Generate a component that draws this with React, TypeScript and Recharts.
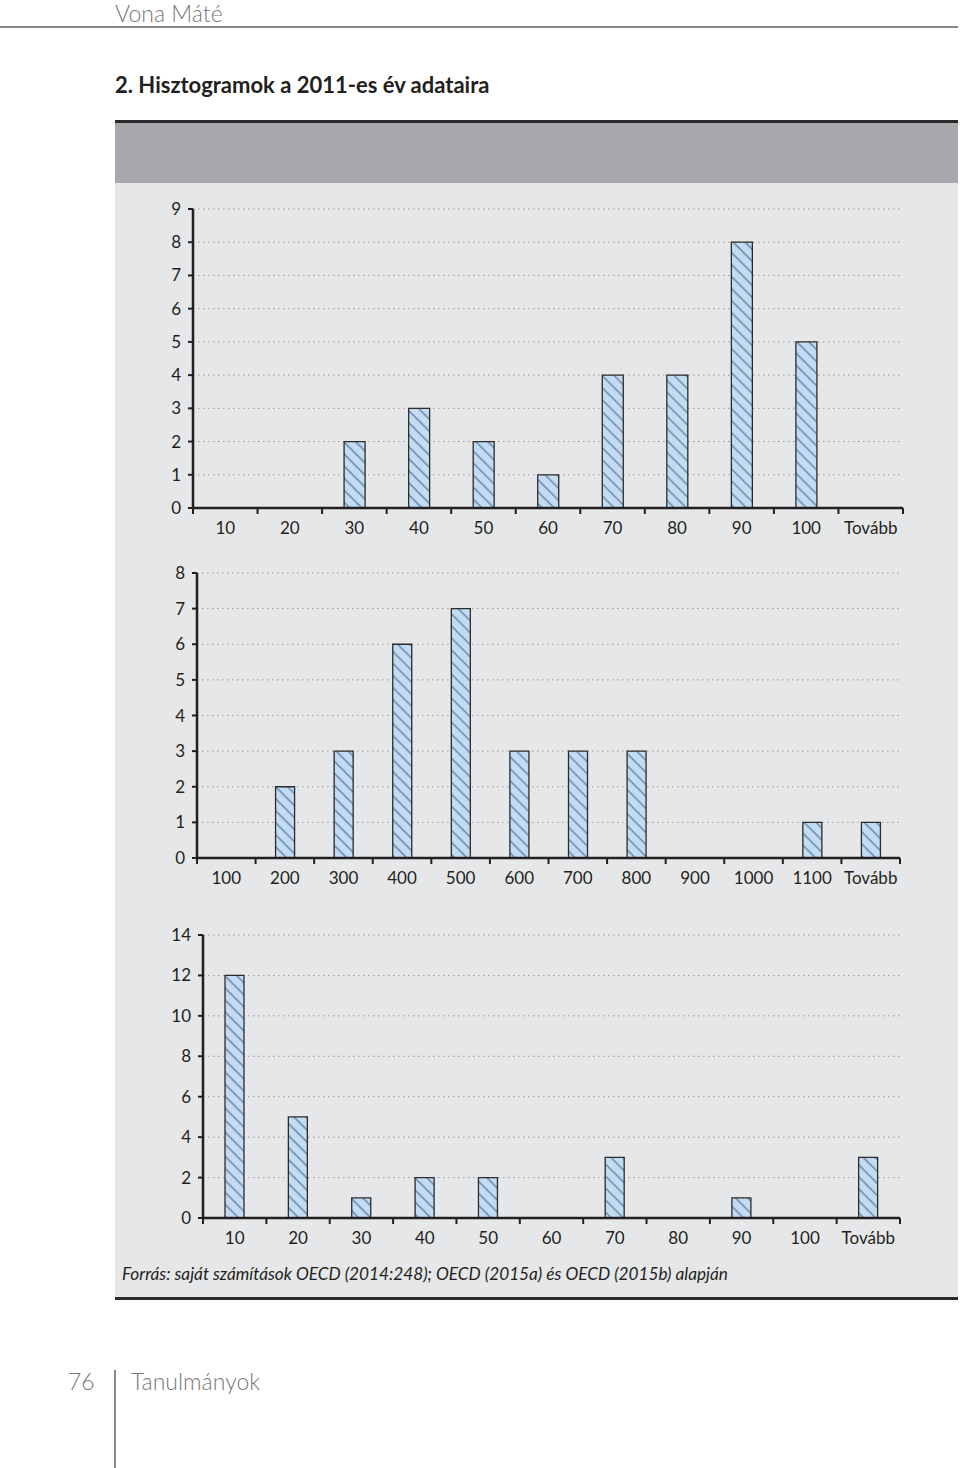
import { BarChart, Bar, XAxis, YAxis, CartesianGrid } from 'recharts';

const cats1 = ['10', '20', '30', '40', '50', '60', '70', '80', '90', '100', 'Tovább'];
const vals1 = [0, 0, 2, 3, 2, 1, 4, 4, 8, 5, 0];
const ticks1 = [0, 1, 2, 3, 4, 5, 6, 7, 8, 9];

const cats2 = ['100', '200', '300', '400', '500', '600', '700', '800', '900', '1000', '1100', 'Tovább'];
const vals2 = [0, 2, 3, 6, 7, 3, 3, 3, 0, 0, 1, 1];
const ticks2 = [0, 1, 2, 3, 4, 5, 6, 7, 8];

const cats3 = ['10', '20', '30', '40', '50', '60', '70', '80', '90', '100', 'Tovább'];
const vals3 = [12, 5, 1, 2, 2, 0, 3, 0, 1, 0, 3];
const ticks3 = [0, 2, 4, 6, 8, 10, 12, 14];

const FONT = 'Lato, "Open Sans", sans-serif';
const INK = '#231f20';
const CHART_W = 845;
const TICK_SIZE = 5;
const TICK_MARGIN = 9;

interface HistProps {
  id: string;
  cats: string[];
  vals: number[];
  yTicks: number[];
  top: number;
  height: number;
  yWidth: number;
  marginTop: number;
  marginRight: number;
  barSize: number;
}

// x tick: label in the middle of the bin, tick mark on the bin edges (like Excel)
const makeBinTick = (band: number) => (props: any) => {
  const { x, y, payload, index, visibleTicksCount } = props;
  const axisY = y - TICK_SIZE - TICK_MARGIN;
  const left = x - band / 2;
  return (
    <g>
      <line x1={left} x2={left} y1={axisY} y2={axisY + 6} stroke={INK} strokeWidth={2} />
      {index === visibleTicksCount - 1 && (
        <line x1={x + band / 2} x2={x + band / 2} y1={axisY} y2={axisY + 6} stroke={INK} strokeWidth={2} />
      )}
      <text x={x} y={y} dy="0.71em" textAnchor="middle" fontSize={17} fill={INK} fontFamily={FONT}>
        {payload.value}
      </text>
    </g>
  );
};

const Histogram = ({ id, cats, vals, yTicks, top, height, yWidth, marginTop, marginRight, barSize }: HistProps) => {
  const data = cats.map((c, i) => ({ label: c, count: vals[i] }));
  const band = (CHART_W - yWidth - marginRight) / cats.length;
  return (
    <div style={{ position: 'absolute', left: 115, top }}>
      <BarChart
        width={CHART_W}
        height={height}
        data={data}
        margin={{ top: marginTop, right: marginRight, bottom: 0, left: 0 }}
        barCategoryGap={0}
      >
        <defs>
          <pattern id={`hatch-${id}`} patternUnits="userSpaceOnUse" width={8.5} height={8.5} patternTransform="rotate(-45)">
            <rect width={8.5} height={8.5} fill="#c4dcf2" />
            <line x1={4.25} y1={0} x2={4.25} y2={8.5} stroke="#5f82a8" strokeWidth={1.4} />
          </pattern>
        </defs>
        <CartesianGrid vertical={false} stroke="#999" strokeDasharray="1.5 3.5" />
        <XAxis
          dataKey="label"
          axisLine={{ stroke: INK, strokeWidth: 2.5 }}
          tickLine={false}
          tickSize={TICK_SIZE}
          tickMargin={TICK_MARGIN}
          height={30}
          interval={0}
          tick={makeBinTick(band)}
        />
        <YAxis
          width={yWidth}
          domain={[yTicks[0], yTicks[yTicks.length - 1]]}
          ticks={yTicks}
          interval={0}
          tickSize={5}
          tickMargin={7}
          tickLine={{ stroke: INK, strokeWidth: 2 }}
          axisLine={{ stroke: INK, strokeWidth: 2.5 }}
          tick={{ fontSize: 17, fill: INK, fontFamily: FONT }}
        />
        <Bar
          dataKey="count"
          barSize={barSize}
          fill={`url(#hatch-${id})`}
          stroke="#2b2b2b"
          strokeWidth={1.3}
          isAnimationActive={false}
        />
      </BarChart>
    </div>
  );
};

export default function App() {
  return (
    <div style={{ position: 'absolute', left: 0, top: 0, width: 960, height: 1468, background: '#fff', fontFamily: FONT, overflow: 'hidden' }}>
      <div style={{ position: 'absolute', left: 115, top: 1, fontSize: 23, lineHeight: '24px', color: '#777', fontWeight: 300 }}>Vona Máté</div>
      <div style={{ position: 'absolute', left: 0, top: 26, width: 958, height: 2, background: '#8a8a8a' }} />
      <div style={{ position: 'absolute', left: 115, top: 71, fontSize: 22, fontWeight: 700, color: INK }}>
        2. Hisztogramok a 2011-es év adataira
      </div>

      <div style={{ position: 'absolute', left: 115, top: 120, width: 843, height: 1180, background: '#e6e7e9' }} />
      <div style={{ position: 'absolute', left: 115, top: 120, width: 843, height: 3, background: '#2a2a2a' }} />
      <div style={{ position: 'absolute', left: 115, top: 123, width: 843, height: 60, background: '#a7a8ab' }} />

      <Histogram id="a" cats={cats1} vals={vals1} yTicks={ticks1} top={195} height={343} yWidth={78} marginTop={14} marginRight={57} barSize={21} />
      <Histogram id="b" cats={cats2} vals={vals2} yTicks={ticks2} top={560} height={328} yWidth={82} marginTop={13} marginRight={60} barSize={19} />
      <Histogram id="c" cats={cats3} vals={vals3} yTicks={ticks3} top={920} height={328} yWidth={88} marginTop={15} marginRight={60} barSize={19} />

      <div style={{ position: 'absolute', left: 122, top: 1263, fontSize: 17.2, fontStyle: 'italic', color: INK }}>
        Forrás: saját számítások OECD (2014:248); OECD (2015a) és OECD (2015b) alapján
      </div>
      <div style={{ position: 'absolute', left: 115, top: 1297, width: 843, height: 3, background: '#2a2a2a' }} />

      <div style={{ position: 'absolute', left: 68, top: 1367, fontSize: 23, color: '#777', fontWeight: 300 }}>76</div>
      <div style={{ position: 'absolute', left: 114, top: 1370, width: 2, height: 98, background: '#8a8a8a' }} />
      <div style={{ position: 'absolute', left: 131, top: 1367, fontSize: 23, color: '#777', fontWeight: 300 }}>Tanulmányok</div>
    </div>
  );
}
